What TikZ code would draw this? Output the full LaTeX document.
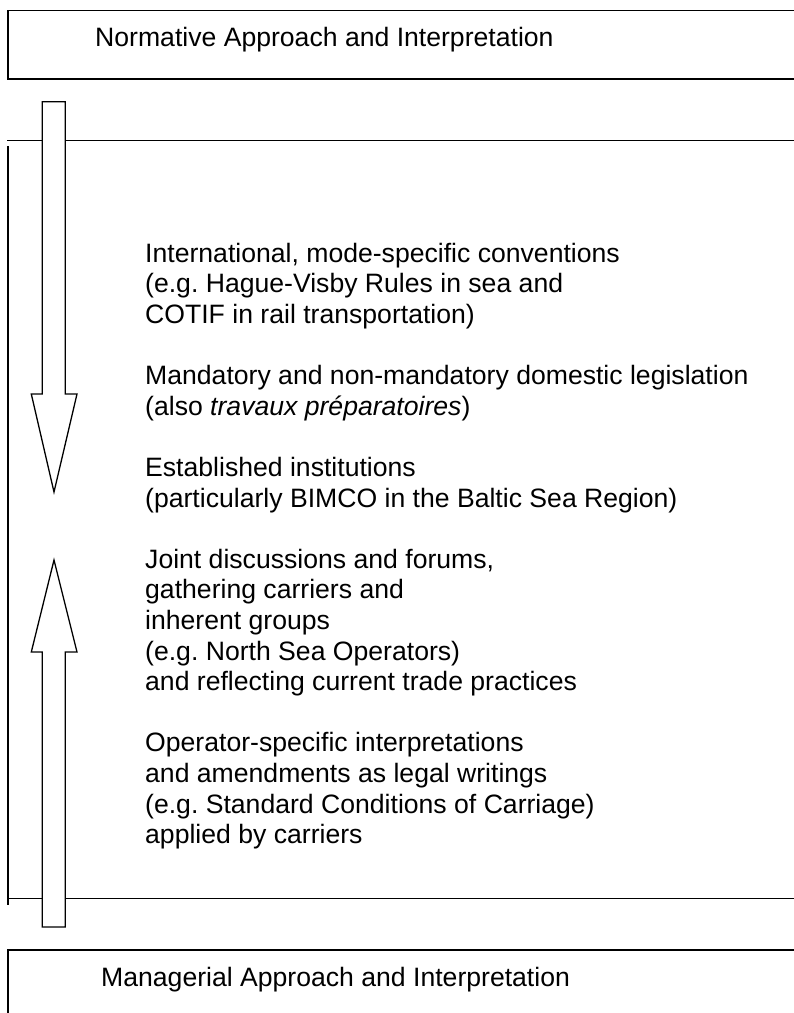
\documentclass[tikz,border=0pt]{standalone}
\usepackage{fontspec}
\setmainfont{Liberation Sans}
\frenchspacing
\begin{document}
\begin{tikzpicture}[x=1pt,y=-1pt,
  frameline/.style={line width=1.5pt, line cap=rect},
  blockarrow/.style={draw=black, fill=white, line width=1.3pt, line join=miter},
  txt/.style={inner sep=0pt, font=\fontsize{26.6pt}{30.6pt}\selectfont, align=left}]
\useasboundingbox (0,0) rectangle (794,1013);
% top box
\draw[frameline] (794,10.3) -- (8,10.3) -- (8,79) -- (794,79);
% middle box
\draw[frameline] (8,140.3) -- (794,140.3);
\draw[frameline] (8,147) -- (8,904);
\draw[frameline] (8,898.7) -- (794,898.7);
% bottom box
\draw[frameline] (794,950) -- (8,950) -- (8,1013);
% arrows
\draw[blockarrow] (42.3,101.7) -- (65.3,101.7) -- (65.3,394) -- (77,394) -- (54,492) -- (31.3,394) -- (42.3,394) -- cycle;
\draw[blockarrow] (54,560) -- (77,652) -- (65.3,652) -- (65.3,927) -- (42.3,927) -- (42.3,652) -- (31.3,652) -- cycle;
% texts
\node[txt, anchor=base west] (norm) at (95,46) {Normative Approach and Interpretation};
\node[txt, anchor=base west] (mgmt) at (101,986) {Managerial Approach and Interpretation};
\node[txt, anchor=north west] (body) at (145,242) {\rule{0pt}{20pt}International, mode-specific conventions\\
(e.g. Hague-Visby Rules in sea and\\
COTIF in rail transportation)\\[30.6pt]
Mandatory and non-mandatory domestic legislation\\
(also \textit{travaux préparatoires})\\[30.6pt]
Established institutions\\
(particularly BIMCO in the Baltic Sea Region)\\[30.6pt]
Joint discussions and forums,\\
gathering carriers and\\
inherent groups\\
(e.g. North Sea Operators)\\
and reflecting current trade practices\\[30.6pt]
Operator-specific interpretations\\
and amendments as legal writings\\
(e.g. Standard Conditions of Carriage)\\
applied by carriers};
\end{tikzpicture}
\end{document}
